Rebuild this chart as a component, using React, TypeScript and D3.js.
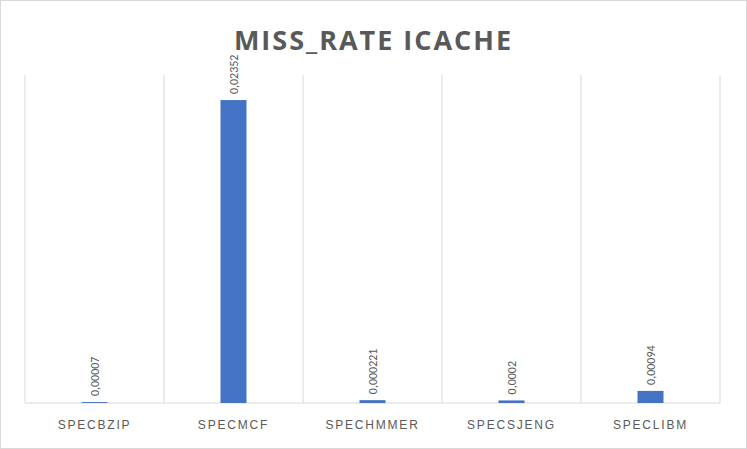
import React from 'react';
import * as d3 from 'd3';

const categories = ['SPECBZIP', 'SPECMCF', 'SPECHMMER', 'SPECSJENG', 'SPECLIBM'];
const values = [0.00007, 0.02352, 0.000221, 0.0002, 0.00094];
const labels = ['0,00007', '0,02352', '0,000221', '0,0002', '0,00094'];

const W = 747, H = 449;
const left = 25, right = 720, top = 81, bottom = 403;

const App: React.FC = () => {
  const x = d3.scaleBand().domain(categories).range([left, right]);
  const y = d3.scaleLinear().domain([0, 0.025]).range([bottom, top]);
  const bw = 26;
  const bounds = [...categories.map(c => x(c)!), right];
  return (
    <svg width={W} height={H} style={{ position: 'absolute', left: 0, top: 0 }}>
      <rect x={0.5} y={0.5} width={W - 1} height={H - 1} fill="#fff" stroke="#d9d9d9" />
      <text x={W / 2} y={50} textAnchor="middle" fontFamily="'Open Sans', sans-serif" fontWeight="bold"
        fontSize={27} fill="#595959" letterSpacing={2}>MISS_RATE ICACHE</text>
      {bounds.map((b, i) => (
        <line key={i} x1={b} x2={b} y1={top - 6} y2={bottom} stroke="#d9d9d9" />
      ))}
      <line x1={left} x2={right} y1={bottom} y2={bottom} stroke="#d9d9d9" />
      {categories.map((c, i) => {
        const cx = x(c)! + x.bandwidth() / 2;
        const yt = y(values[i]);
        return (
          <g key={c}>
            <rect x={cx - bw / 2} y={yt} width={bw} height={bottom - yt} fill="#4472c4" />
            <text transform={`translate(${cx + 4},${yt - 6}) rotate(-90)`} fontFamily="Calibri, 'Liberation Sans', sans-serif"
              fontSize={12} fill="#595959">{labels[i]}</text>
            <text x={cx} y={429} textAnchor="middle" fontFamily="'Liberation Sans', sans-serif" fontSize={12}
              fill="#595959" letterSpacing={1.8}>{c}</text>
          </g>
        );
      })}
    </svg>
  );
};

export default App;
